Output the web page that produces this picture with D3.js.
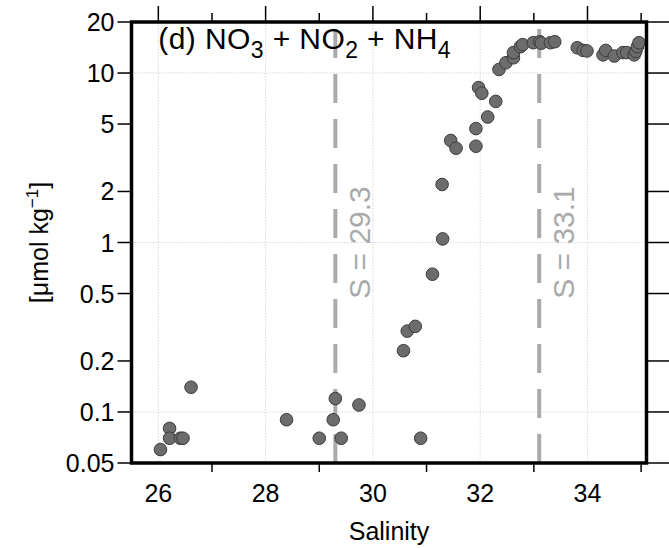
<!DOCTYPE html>
<html>
<head>
<meta charset="utf-8">
<script src="https://cdn.jsdelivr.net/npm/d3@7"></script>
<style>
  body { margin: 0; background: #fff; }
  text { font-family: "Liberation Sans", Arial, Helvetica, sans-serif; }
</style>
</head>
<body>
<div id="container"></div>
<script>
// salinity and NO3 + NO2 + NH4 [umol/kg]
var salinity = [26.04, 26.21, 26.21, 26.41, 26.46, 26.61, 28.39, 29.00, 29.30, 29.26,
    29.41, 29.74, 30.57, 30.64, 30.79, 30.89, 31.11, 31.30, 31.29, 31.45,
    31.55, 31.92, 31.92, 31.97, 32.03, 32.14, 32.29, 32.35, 32.48, 32.62,
    32.62, 32.75, 32.79, 32.99, 33.11, 33.14, 33.31, 33.39, 33.81, 33.92,
    33.99, 34.29, 34.34, 34.50, 34.66, 34.73, 34.87, 34.90, 34.93, 34.96];
var nutrient = [0.06, 0.08, 0.07, 0.07, 0.07, 0.14, 0.09, 0.07, 0.12, 0.09,
    0.07, 0.11, 0.23, 0.30, 0.32, 0.07, 0.65, 1.05, 2.2, 4.0,
    3.6, 3.7, 4.7, 8.2, 7.6, 5.5, 6.8, 10.5, 11.5, 12.3,
    13.2, 14.3, 14.7, 15.1, 15.3, 15.0, 15.1, 15.3, 14.1, 13.6,
    13.5, 12.8, 13.6, 12.6, 13.2, 13.2, 12.8, 13.4, 14.3, 15.1];

var xMajor = [26, 28, 30, 32, 34];
var xMinor = [27, 29, 31, 33, 35];
var yTicks = [0.05, 0.1, 0.2, 0.5, 1, 2, 5, 10, 20];
var yTickLabels = ["0.05", "0.1", "0.2", "0.5", "1", "2", "5", "10", "20"];
var yGrid = [0.1, 1, 10];
var thresholds = [29.3, 33.1];

var W = 669, H = 548;
var margin = {top: 22, right: 22.5, bottom: 85, left: 131.5},
    width = W - margin.left - margin.right,
    height = H - margin.top - margin.bottom;

var x = d3.scaleLinear().domain([25.5, 35.1]).range([0, width]);
var y = d3.scaleLog().domain([0.05, 20]).range([height, 0]);

var svg = d3.select("#container")
  .append("svg")
    .attr("width", W)
    .attr("height", H)
  .append("g")
    .attr("transform", "translate(" + margin.left + "," + margin.top + ")");

// dotted grid
svg.selectAll("xgrid")
  .data(xMajor)
  .enter()
  .append("line")
    .attr("x1", function(d){ return x(d) })
    .attr("x2", function(d){ return x(d) })
    .attr("y1", 0)
    .attr("y2", height)
    .attr("stroke", "#cfcfcf")
    .attr("stroke-width", 0.8)
    .attr("stroke-dasharray", "1.5,1.5");
svg.selectAll("ygrid")
  .data(yGrid)
  .enter()
  .append("line")
    .attr("x1", 0)
    .attr("x2", width)
    .attr("y1", function(d){ return y(d) })
    .attr("y2", function(d){ return y(d) })
    .attr("stroke", "#cfcfcf")
    .attr("stroke-width", 0.8)
    .attr("stroke-dasharray", "1.5,1.5");

// salinity thresholds, dashed from the bottom up
svg.selectAll("thresh")
  .data(thresholds)
  .enter()
  .append("line")
    .attr("x1", function(d){ return x(d) })
    .attr("x2", function(d){ return x(d) })
    .attr("y1", height)
    .attr("y2", 0)
    .attr("stroke", "#aaaaaa")
    .attr("stroke-width", 4)
    .attr("stroke-dasharray", "29,16");
svg.selectAll("threshlabel")
  .data(thresholds)
  .enter()
  .append("text")
    .attr("transform", function(d){
        return "translate(" + (x(d) + 35) + "," + y(1) + ") rotate(-90)";
    })
    .attr("text-anchor", "middle")
    .attr("font-size", "30px")
    .attr("fill", "#aaaaaa")
    .text(function(d){ return "S = " + d; });

// title
var title = svg.append("text")
    .attr("x", x(26))
    .attr("y", 36)
    .attr("font-size", "30px")
    .attr("letter-spacing", "0.4px")
    .attr("fill", "black");
[["(d) NO", false], ["3", true], [" + NO", false], ["2", true], [" + NH", false], ["4", true]]
  .forEach(function(p) {
    title.append("tspan")
        .attr("font-size", p[1] ? "23px" : "30px")
        .attr("dy", p[1] ? 9 : (title.selectAll("tspan").size() ? -9 : 0))
        .text(p[0]);
  });

// points
svg.selectAll("circle")
  .data(d3.range(salinity.length))
  .enter()
  .append("circle")
    .attr("cx", function(i){ return x(salinity[i]) })
    .attr("cy", function(i){ return y(nutrient[i]) })
    .attr("r", 6.3)
    .attr("fill", "#6c6c6c")
    .attr("stroke", "#3c3c3c")
    .attr("stroke-width", 1);

// frame
svg.append("rect")
    .attr("x", 0)
    .attr("y", 0)
    .attr("width", width)
    .attr("height", height)
    .attr("fill", "none")
    .attr("stroke", "black")
    .attr("stroke-width", 3.5);

// y ticks on both sides
svg.selectAll("ltick")
  .data(yTicks)
  .enter()
  .append("line")
    .attr("x1", -14).attr("x2", 0)
    .attr("y1", function(d){ return y(d) })
    .attr("y2", function(d){ return y(d) })
    .attr("stroke", "black").attr("stroke-width", 1.5);
svg.selectAll("rtick")
  .data(yTicks)
  .enter()
  .append("line")
    .attr("x1", width).attr("x2", width + 30)
    .attr("y1", function(d){ return y(d) })
    .attr("y2", function(d){ return y(d) })
    .attr("stroke", "black").attr("stroke-width", 1.5);
svg.selectAll("ylab")
  .data(yTicks)
  .enter()
  .append("text")
    .attr("x", -17)
    .attr("y", function(d){ return y(d) })
    .attr("dy", "0.36em")
    .attr("text-anchor", "end")
    .attr("font-size", "25px")
    .text(function(d, i){ return yTickLabels[i] });

// x ticks: long majors on top, minors top and bottom
svg.selectAll("tmaj")
  .data(xMajor)
  .enter()
  .append("line")
    .attr("x1", function(d){ return x(d) })
    .attr("x2", function(d){ return x(d) })
    .attr("y1", 0).attr("y2", -16)
    .attr("stroke", "black").attr("stroke-width", 1.5);
svg.selectAll("tmin")
  .data(xMinor)
  .enter()
  .append("line")
    .attr("x1", function(d){ return x(d) })
    .attr("x2", function(d){ return x(d) })
    .attr("y1", 0).attr("y2", -9)
    .attr("stroke", "black").attr("stroke-width", 1.5);
svg.selectAll("bmin")
  .data(xMinor)
  .enter()
  .append("line")
    .attr("x1", function(d){ return x(d) })
    .attr("x2", function(d){ return x(d) })
    .attr("y1", height).attr("y2", height + 9)
    .attr("stroke", "black").attr("stroke-width", 1.5);
svg.selectAll("xlab")
  .data(xMajor)
  .enter()
  .append("text")
    .attr("x", function(d){ return x(d) })
    .attr("y", height + 39)
    .attr("text-anchor", "middle")
    .attr("font-size", "25px")
    .text(function(d){ return d });

// axis titles
svg.append("text")
    .attr("x", width / 2)
    .attr("y", height + 77)
    .attr("text-anchor", "middle")
    .attr("font-size", "25px")
    .text("Salinity");
var ylab = svg.append("text")
    .attr("transform", "translate(" + (-84) + "," + (height / 2) + ") rotate(-90)")
    .attr("text-anchor", "middle")
    .attr("font-size", "25px");
ylab.append("tspan").text("[\u03bcmol kg");
ylab.append("tspan").attr("font-size", "17px").attr("dy", -10).text("\u22121");
ylab.append("tspan").attr("dy", 10).text("]");
</script>
</body>
</html>
